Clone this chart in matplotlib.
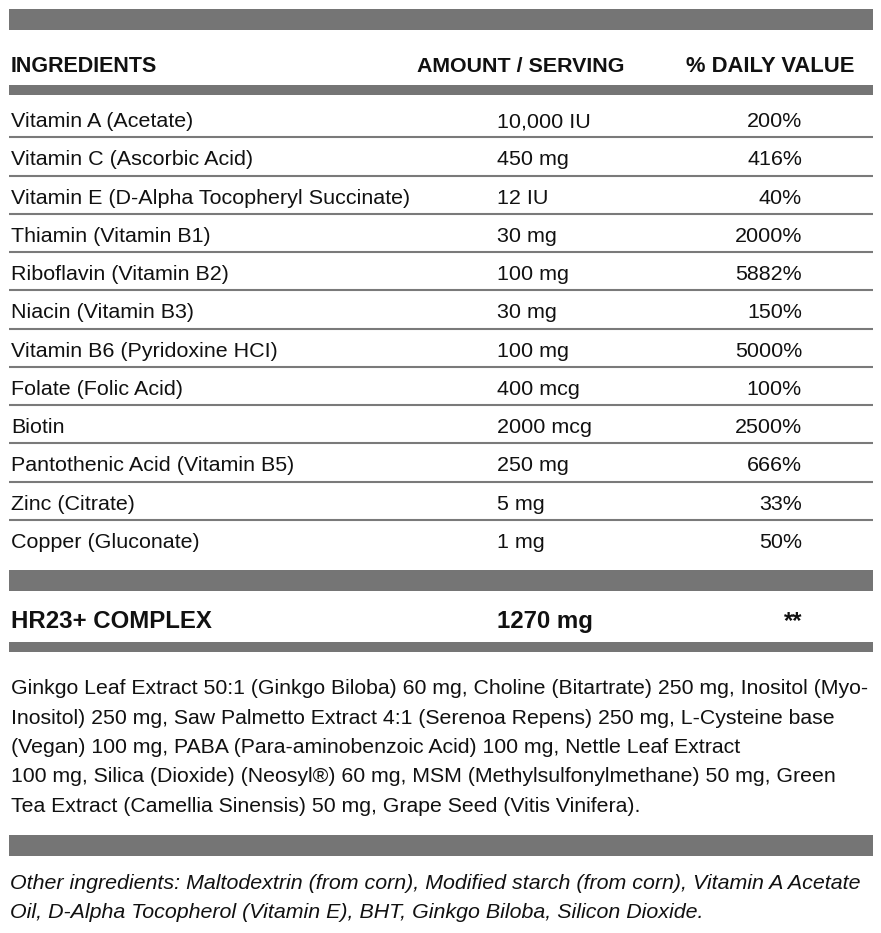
import matplotlib
matplotlib.use("Agg")
import matplotlib.pyplot as plt
from matplotlib.patches import Rectangle

# ---- data ----
headers = ["INGREDIENTS", "AMOUNT / SERVING", "% DAILY VALUE"]
ingredients = [
    "Vitamin A (Acetate)",
    "Vitamin C (Ascorbic Acid)",
    "Vitamin E (D-Alpha Tocopheryl Succinate)",
    "Thiamin (Vitamin B1)",
    "Riboflavin (Vitamin B2)",
    "Niacin (Vitamin B3)",
    "Vitamin B6 (Pyridoxine HCI)",
    "Folate (Folic Acid)",
    "Biotin",
    "Pantothenic Acid (Vitamin B5)",
    "Zinc (Citrate)",
    "Copper (Gluconate)",
]
amounts = ["10,000 IU", "450 mg", "12 IU", "30 mg", "100 mg", "30 mg",
           "100 mg", "400 mcg", "2000 mcg", "250 mg", "5 mg", "1 mg"]
daily_values = ["200%", "416%", "40%", "2000%", "5882%", "150%",
                "5000%", "100%", "2500%", "666%", "33%", "50%"]
complex_name = "HR23+ COMPLEX"
complex_amount = "1270 mg"
complex_dv = "**"
complex_lines = [
    "Ginkgo Leaf Extract 50:1 (Ginkgo Biloba) 60 mg, Choline (Bitartrate) 250 mg, Inositol (Myo-",
    "Inositol) 250 mg, Saw Palmetto Extract 4:1 (Serenoa Repens) 250 mg, L-Cysteine base",
    "(Vegan) 100 mg, PABA (Para-aminobenzoic Acid) 100 mg, Nettle Leaf Extract",
    "100 mg, Silica (Dioxide) (Neosyl\u00ae) 60 mg, MSM (Methylsulfonylmethane) 50 mg, Green",
    "Tea Extract (Camellia Sinensis) 50 mg, Grape Seed (Vitis Vinifera).",
]
other_lines = [
    "Other ingredients: Maltodextrin (from corn), Modified starch (from corn), Vitamin A Acetate",
    "Oil, D-Alpha Tocopherol (Vitamin E), BHT, Ginkgo Biloba, Silicon Dioxide.",
]

# ---- layout ----
W, H = 881, 933
fig = plt.figure(figsize=(W / 100, H / 100), dpi=100)
ax = fig.add_axes([0, 0, 1, 1])
ax.set_xlim(0, W)
ax.set_ylim(H, 0)
ax.axis("off")

FONT = "Liberation Sans"
BAR = "#757575"
LINE = "#7a7a7a"
TXT = "#111111"
X0, X1 = 9, 873

def bar(y0, y1):
    ax.add_patch(Rectangle((X0, y0), X1 - X0, y1 - y0, color=BAR, lw=0))

bar(9, 30)
bar(85, 95)
bar(570, 591)
bar(642, 652)
bar(835, 856)

col_name_x = 11
col_amt_x = 497
col_dv_right = 802
FS = 15.45

# headers
ax.text(11, 72, headers[0], fontfamily=FONT, fontweight="bold", fontsize=15.5, color=TXT, va="baseline", ha="left")
ax.text(417, 72, headers[1], fontfamily=FONT, fontweight="bold", fontsize=15.4, color=TXT, va="baseline", ha="left")
ax.text(686, 72, headers[2], fontfamily=FONT, fontweight="bold", fontsize=15.8, color=TXT, va="baseline", ha="left")

# rows
base0 = 127.0
step = 38.27
for i, (n, a, d) in enumerate(zip(ingredients, amounts, daily_values)):
    yb = base0 + i * step
    ax.text(col_name_x, yb, n, fontfamily=FONT, fontsize=FS, color=TXT, va="baseline", ha="left")
    ax.text(col_amt_x, yb, a, fontfamily=FONT, fontsize=FS, color=TXT, va="baseline", ha="left")
    ax.text(col_dv_right, yb, d, fontfamily=FONT, fontsize=FS, color=TXT, va="baseline", ha="right")
    if i < len(ingredients) - 1:
        ly = yb + 10.3
        ax.plot([X0, X1], [ly, ly], color=LINE, lw=1.5, solid_capstyle="butt")

# complex row
ax.text(11, 628, complex_name, fontfamily=FONT, fontweight="bold", fontsize=17.3, color=TXT, va="baseline", ha="left")
ax.text(col_amt_x, 628, complex_amount, fontfamily=FONT, fontweight="bold", fontsize=17.3, color=TXT, va="baseline", ha="left")
ax.text(col_dv_right, 628, complex_dv, fontfamily=FONT, fontweight="bold", fontsize=17.3, color=TXT, va="baseline", ha="right")

# paragraph
for i, line in enumerate(complex_lines):
    ax.text(11, 694 + i * 29.5, line, fontfamily=FONT, fontsize=15.35, color=TXT, va="baseline", ha="left")

for i, line in enumerate(other_lines):
    ax.text(10, 889 + i * 29, line, fontfamily=FONT, fontstyle="italic", fontsize=15.4, color=TXT, va="baseline", ha="left")

fig.savefig("out.png", dpi=100, facecolor="white")
